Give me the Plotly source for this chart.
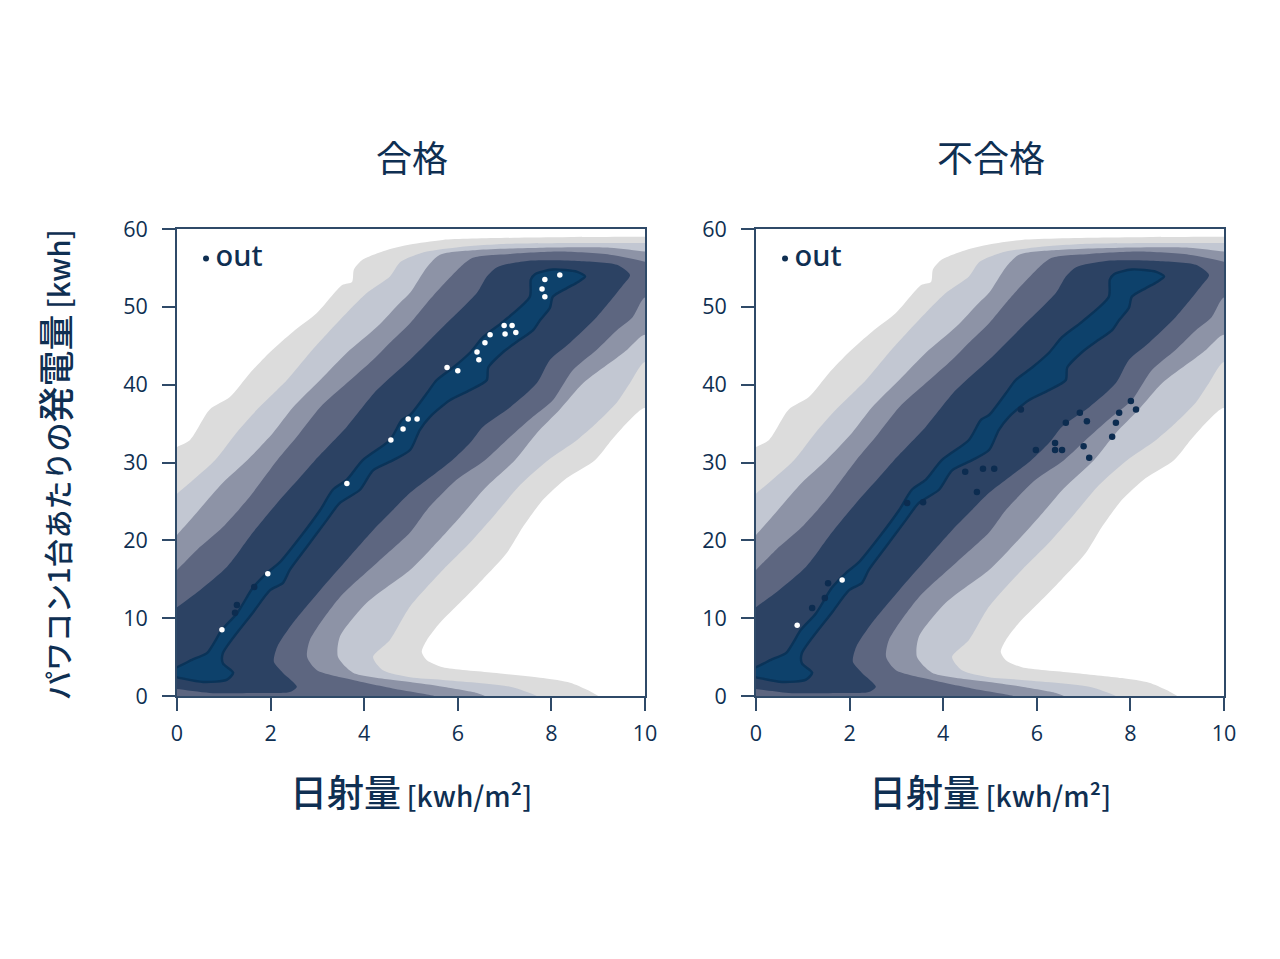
import plotly.graph_objects as go
from plotly.subplots import make_subplots

W, H = 1280, 959
OFF = 8  # default page margin of the browser

# contour outlines; the first and last points run just past the axes so the plot area clips them cleanly
band1_x = [-.4,0,.28,.7,1.13,1.56,1.99,2.48,2.99,3.53,3.74,3.78,3.95,4.49,4.98,5.68,7.5,9.96,10.4,10.4,10,9.68,9.3,8.93,8.33,7.82,7.39,7.05,6.52,6.05,5.62,5.34,5.23,5.34,5.68,6.75,7.82,8.4,8.76,9.0,9.2,-.4]
band1_y = [31,32,32.9,36.8,38.4,41.5,44.2,46.8,49.2,52.8,53.2,54.8,56,57.3,58,58.6,58.9,59,59,34,37,35.5,33,30.3,28,25.2,21.7,18.4,14.9,12,9.4,7.2,5.7,4.6,3.7,3,2.3,1.7,.8,0,-1,-1]

band2_x = [-.4,0,.81,1.28,1.71,2.35,2.84,3.48,4.06,4.55,4.76,4.98,5.34,6.05,7.1,8.55,10,10.4,10.4,10,9.68,9.4,8.97,8.55,7.93,7.33,6.75,6.26,5.68,4.98,4.55,4.19,4.4,4.98,5.68,7.12,7.69,7.9,-.4]
band2_y = [24,26,30.3,33.9,36.8,40.6,44.1,48.3,51.8,53.9,55.7,56.4,57.1,57.7,58.1,58.2,58.2,58.2,40,42.9,40.2,37.7,35.1,32.9,30.3,27.1,23,19.7,16.2,11.5,7.2,5,3.3,2.4,2.06,1.2,0,-1,-1]

band3_x = [-.4,0,.34,.98,1.5,2.05,2.48,3.06,3.63,4.27,4.76,4.98,5.34,5.62,6.41,7.82,9.25,10,10.4,10.4,10,9.62,9.25,8.68,8.18,7.69,7.22,6.58,6.05,5.41,4.98,4.06,3.48,3.44,3.76,4.62,4.98,5.68,6.41,6.58,6.8,-.4]
band3_y = [18,20.7,23,27.4,30.3,33.8,37.1,40.6,44.1,47.4,50.5,51.8,55.1,56.7,57.3,57.6,57.6,57.1,56.8,44,46.4,44.5,42.8,40.2,36.8,33.8,30.3,26.7,23,18.8,16.2,12,7.6,5,3,2.06,1.8,1.2,.4,0,-1,-1]

band4_x = [-.4,0,.43,.98,1.5,2.14,2.56,3.06,3.63,4.19,4.62,4.98,5.34,5.68,6.05,6.32,7.12,8.18,9.25,10,10.4,10.4,10,9.74,9.4,8.97,8.46,8.03,7.61,7.12,6.58,5.98,5.34,4.98,4.27,3.48,2.84,2.78,2.99,3.76,4.76,5.34,5.5,5.7,-.4]
band4_y = [14,16.2,18.8,21.7,25.2,30.3,33.3,37.1,40.2,43.2,45.8,47.9,50.5,52.8,55.1,56.3,56.8,57.1,56.7,55.8,55,49,51.2,48.7,47,44.5,41.9,38,35.9,33.3,30.3,27.8,23.9,21,17.1,12.7,7.2,5,3.3,2.06,.8,.2,0,-1,-1]

band5_x = [-.4,0,.49,1.07,1.62,2.14,2.63,2.95,3.63,4.27,4.98,5.68,6.41,6.62,6.84,7.48,8.55,9.4,9.68,9.53,8.97,8.4,7.97,7.69,7.12,6.54,6.26,5.88,5.41,4.98,4.55,4.19,3.63,3.06,2.48,2.14,2.07,2.26,2.56,2.41,1.77,.7,0,-.4]
band5_y = [9.5,11.4,13.6,16.6,21,24.8,28.1,30.3,34.6,39.3,43.2,47.4,51.8,53.9,55.1,55.9,55.9,55.4,54.1,52.8,48.7,45.4,43.2,40.2,37.1,34.6,32.5,30.3,28.1,26.1,23.5,21.3,17.5,13.6,9.4,6.3,4.4,3,1.2,.5,.4,.4,.9,1.1]

core_x = [-.4,0,.34,.64,.96,1.28,1.62,1.92,2.2,2.63,3.06,3.33,3.63,3.97,4.55,4.81,4.98,5.34,5.55,5.9,6.26,6.54,6.97,7.54,7.56,7.65,8.03,8.55,8.72,8.57,8.33,8.03,7.97,7.76,7.61,7.33,6.97,6.65,6.62,6.26,5.83,5.41,5.19,4.98,4.62,4.19,3.91,3.48,3.2,2.78,2.41,2.26,1.99,1.62,.98,.98,1.2,1.07,.56,0,-.4]
core_y = [2.8,3.7,4.7,5.5,8.5,10.6,13.9,15.8,17.2,20.4,23.9,26.5,27.8,30.3,32.9,35.5,36.1,38.9,40.6,42.2,44.1,46.1,48.1,51.3,53.5,54.2,54.8,54.5,53.9,53.2,52.4,51.3,49.9,48.3,47,45.8,44.2,42.2,40.6,39.3,38,35.9,34.2,31.6,30.3,29,26.5,24.8,22.6,19.2,16.2,14.5,13.6,10.7,5.5,4.2,3,2.1,1.8,2.4,2.9]

pass_white_x = [.96,1.94,3.63,4.57,4.83,4.94,5.13,5.77,6.0,6.41,6.45,6.58,6.69,6.99,7.01,7.16,7.24,7.86,7.8,7.86,8.18]
pass_white_y = [8.5,15.7,27.3,32.9,34.3,35.6,35.6,42.2,41.8,44.2,43.2,45.4,46.4,47.6,46.5,47.6,46.7,51.3,52.3,53.5,54.1]
pass_dark_x = [1.28,1.24,1.65]
pass_dark_y = [11.7,10.7,14]

fail_white_x = [.88,1.84]
fail_white_y = [9.1,14.9]
fail_dark_x = [8.01,8.12,7.76,7.69,7.61,7.12,7.0,6.92,7.07,6.62,6.39,6.39,6.54,5.98,5.66,4.47,4.85,5.09,4.72,1.2,1.47,1.54,3.23,3.57]
fail_dark_y = [37.9,36.8,36.4,35.1,33.3,30.6,32.1,36.4,35.3,35.1,32.5,31.6,31.6,31.6,36.8,28.8,29.2,29.2,26.2,11.3,12.6,14.5,24.8,24.9]

titles = ["合格", "不合格"]
x_ticks = [0, 2, 4, 6, 8, 10]
y_ticks = [0, 10, 20, 30, 40, 50, 60]
legend_x, legend_y = [.62], [56.2]
legend_text = ["out"]

bands = [(band1_x, band1_y, "#dcdcdc"), (band2_x, band2_y, "#c2c7d2"), (band3_x, band3_y, "#8d93a6"),
         (band4_x, band4_y, "#5d6680"), (band5_x, band5_y, "#2c4263")]
INK = "#0f2f52"
AXIS = "#2f4a68"
JP = "Noto Sans CJK JP"
LAT = "Open Sans"

fig = make_subplots(rows=1, cols=2)

for col, (wx, wy, dx, dy) in enumerate([(pass_white_x, pass_white_y, pass_dark_x, pass_dark_y),
                                        (fail_white_x, fail_white_y, fail_dark_x, fail_dark_y)], start=1):
    for bx, by, c in bands:
        fig.add_trace(go.Scatter(x=bx, y=by, mode="lines", fill="toself", fillcolor=c,
                                 line=dict(width=0, shape="spline", smoothing=0.7, color=c),
                                 hoverinfo="skip", showlegend=False), row=1, col=col)
    fig.add_trace(go.Scatter(x=core_x, y=core_y, mode="lines", fill="toself", fillcolor="#0d416b",
                             line=dict(width=2.4, shape="spline", smoothing=0.7, color="#0a3358"),
                             hoverinfo="skip", showlegend=False), row=1, col=col)
    fig.add_trace(go.Scatter(x=dx, y=dy, mode="markers", marker=dict(size=6.5, color="#0c2c50"),
                             showlegend=False), row=1, col=col)
    fig.add_trace(go.Scatter(x=wx, y=wy, mode="markers", marker=dict(size=5.5, color="#ffffff"),
                             showlegend=False), row=1, col=col)
    fig.add_trace(go.Scatter(x=legend_x, y=legend_y, mode="markers+text", text=["\u2009" + t for t in legend_text],
                             textposition="middle right",
                             textfont=dict(family="Noto Sans", size=29, color=INK, weight=500),
                             marker=dict(size=6, color=INK), showlegend=False), row=1, col=col)

axis_common = dict(showgrid=False, zeroline=False, showline=True, mirror=True, linecolor=AXIS, linewidth=1.6,
                   ticks="outside", ticklen=13, tickcolor=AXIS, tickwidth=1.6, automargin=False,
                   tickfont=dict(family=LAT, size=21.5, color=INK))
left_dom = [(177 - OFF) / W, (645 - OFF) / W]
right_dom = [(756 - OFF) / W, (1224 - OFF) / W]
ydom = [(H - 696 + OFF) / H, (H - 229 + OFF) / H]
fig.update_xaxes(range=[0, 10], tickvals=x_ticks, ticklabelstandoff=4, **axis_common)
fig.update_yaxes(range=[0, 60], tickvals=y_ticks, ticklabelstandoff=10, **axis_common)
fig.update_layout(xaxis=dict(domain=left_dom), xaxis2=dict(domain=right_dom),
                  yaxis=dict(domain=ydom), yaxis2=dict(domain=ydom),
                  width=W, height=H, margin=dict(l=0, r=0, t=0, b=0, pad=0),
                  plot_bgcolor="white", paper_bgcolor="white", showlegend=False)


def px(x, y):
    return (x - OFF) / W, (H - y + OFF) / H


anns = []
for cx, t in zip((412, 991), titles):
    x, y = px(cx, 156)
    anns.append(dict(text=t, x=x, y=y, xref="paper", yref="paper", showarrow=False, xanchor="center", yanchor="middle",
                     font=dict(family=JP, size=36, color=INK, weight=400)))
for cx in (411, 990):
    x, y = px(cx, 791)
    anns.append(dict(text='<span style="font-size:37px;font-weight:500">日射量</span>\u2009[kwh/m²]',
                     x=x, y=y, xref="paper", yref="paper", showarrow=False, xanchor="center", yanchor="middle",
                     font=dict(family=JP, size=28, color=INK, weight=500)))
x, y = px(54, 465)
anns.append(dict(text='パワコン1台あたりの<span style="font-size:36px;font-weight:500">発電量</span>\u2009[kwh]',
                 x=x, y=y, xref="paper", yref="paper", showarrow=False, textangle=-90, xanchor="center", yanchor="middle",
                 font=dict(family=JP, size=29, color=INK, weight=500)))
fig.update_layout(annotations=anns)

fig.write_html("out.html")
